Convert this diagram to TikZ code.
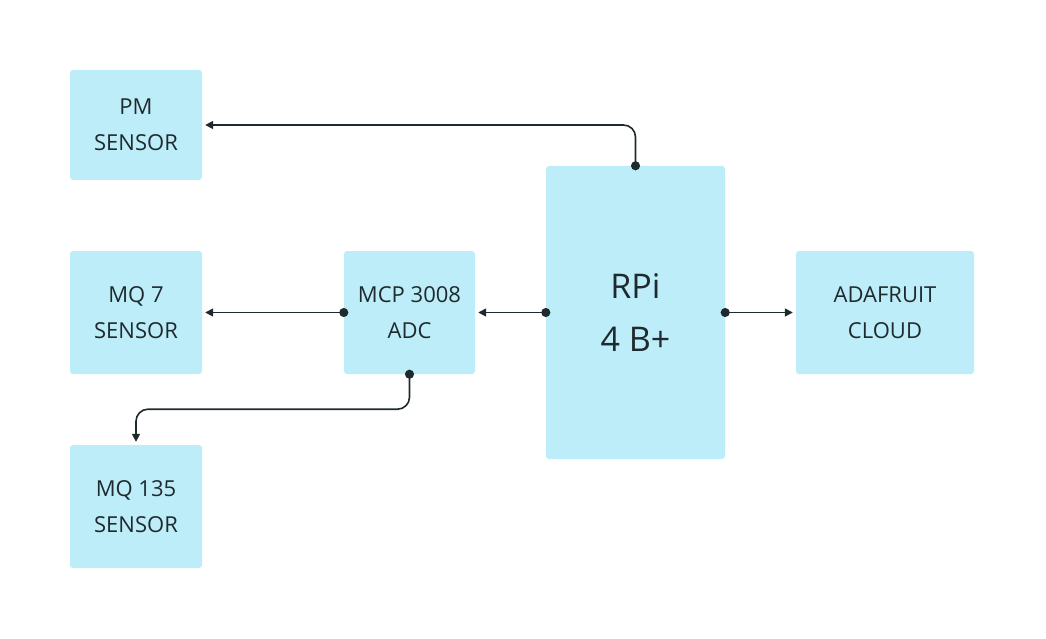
\documentclass[tikz,border=0pt]{standalone}
\usepackage{fontspec}
\setmainfont{Open Sans}
\usetikzlibrary{arrows.meta}
\definecolor{boxfill}{HTML}{BDEDF8}
\definecolor{inkdark}{HTML}{1F2A2E}
\tikzset{
  block/.style={fill=boxfill, rounded corners=3pt, align=center, text=inkdark,
    font=\fontsize{22}{36}\selectfont, inner sep=0pt},
  link/.style={draw=inkdark, line width=1.6pt,
    {Circle[length=9pt]}-{Triangle[length=8pt,width=8pt]},
    shorten <=-4.5pt, shorten >=3pt}
}
\begin{document}
\begin{tikzpicture}[x=1pt,y=-1pt]
\useasboundingbox (0,0) rectangle (1046,639);
% blocks
\node[block, minimum width=132pt, minimum height=110pt] (pm) at (136,125) {PM\\SENSOR};
\node[block, minimum width=132pt, minimum height=123pt] (mqseven) at (136,312.5) {MQ 7\\SENSOR};
\node[block, minimum width=132pt, minimum height=123pt] (mqonethree) at (136,506.5) {MQ 135\\SENSOR};
\node[block, minimum width=131pt, minimum height=123pt] (mcp) at (409.5,312.5) {MCP 3008\\ADC};
\node[block, minimum width=179pt, minimum height=293pt, font=\fontsize{34}{53}\selectfont] (rpi) at (635.5,312.5) {RPi\\4 B+};
\node[block, minimum width=178pt, minimum height=123pt] (cloud) at (885,312.5) {ADAFRUIT\\CLOUD};
% links
\draw[link, rounded corners=12pt] (rpi.north) |- (pm.east);
\draw[link] (rpi.west) -- (mcp.east);
\draw[link] (mcp.west) -- (mqseven.east);
\draw[link, rounded corners=12pt] (mcp.south) -- ++(0,35) -| (mqonethree.north);
\draw[link] (rpi.east) -- (cloud.west);
\end{tikzpicture}
\end{document}
